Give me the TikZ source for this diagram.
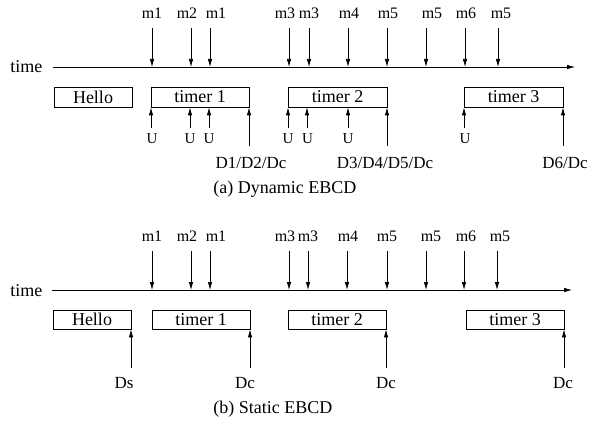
\documentclass[tikz,border=0pt]{standalone}
\usepackage{fontspec}
\setmainfont{Liberation Serif}
\usetikzlibrary{arrows.meta}
\begin{document}
\begin{tikzpicture}[x=1pt,y=1pt,line width=0.75pt,
  arr/.style={-{Latex[length=8pt,width=4.5pt]}},
  box/.style={draw,inner sep=0pt,minimum height=20pt,font=\fontsize{18}{18}\selectfont},
  mlab/.style={anchor=base,inner sep=0pt,font=\fontsize{16}{16}\selectfont},
  ulab/.style={anchor=base,inner sep=0pt,font=\fontsize{15}{15}\selectfont},
  dlab/.style={anchor=base,inner sep=0pt,font=\fontsize{17}{17}\selectfont},
  tlab/.style={anchor=base west,inner sep=0pt,font=\fontsize{18}{18}\selectfont},
  captext/.style={anchor=base west,inner sep=0pt,font=\fontsize{18}{18}\selectfont}]
\useasboundingbox (0,0) rectangle (589,424);

% ---------- (a) Dynamic EBCD ----------
\node[tlab] (timeA) at (10,351) {time};
\coordinate (axA0) at (53,357);
\coordinate (axA1) at (575,357);
\draw[arr] (axA0) -- (axA1);

\foreach \i/\x/\lx/\t in {1/152/152/m1,2/191/187/m2,3/210/216/m1,4/289/285/m3,5/309/309/m3,6/348/349/m4,7/387/388/m5,8/426/432/m5,9/465/466/m6,10/498/501/m5}{
  \node[mlab] (mA\i) at (\lx,405.5) {\t};
  \coordinate (sA\i) at (\x,396);
  \draw[arr] (sA\i) -- (sA\i |- axA0);
}

\node[box,minimum width=78pt] (hA) at (93,327) {Hello};
\node[box,minimum width=98pt] (tA1) at (200,327) {timer 1};
\node[box,minimum width=99pt] (tA2) at (337.5,327) {timer 2};
\node[box,minimum width=99pt] (tA3) at (513.5,327) {timer 3};

\foreach \i/\x/\lx/\b in {1/151/152/tA1,2/190/190/tA1,3/209/209/tA1,4/288/288/tA2,5/307/307.5/tA2,6/348/348/tA2,7/464/465/tA3}{
  \node[ulab] (uA\i) at (\lx,280) {U};
  \coordinate (usA\i) at (\x,296);
  \draw[arr] (usA\i) -- (usA\i |- \b.south);
}

\node[dlab] (dA1) at (251,256) {D1/D2/Dc};
\node[dlab] (dA2) at (385,256) {D3/D4/D5/Dc};
\node[dlab] (dA3) at (565,256) {D6/Dc};
\coordinate (dsA1) at (249,278);
\coordinate (dsA2) at (387,278);
\coordinate (dsA3) at (563,278);
\draw[arr] (dsA1) -- (dsA1 |- tA1.south);
\draw[arr] (dsA2) -- (dsA2 |- tA2.south);
\draw[arr] (dsA3) -- (dsA3 |- tA3.south);

\node[captext] (capA) at (213,231) {(a) Dynamic EBCD};

% ---------- (b) Static EBCD ----------
\node[tlab] (timeB) at (10,128) {time};
\coordinate (axB0) at (52,134);
\coordinate (axB1) at (572,134);
\draw[arr] (axB0) -- (axB1);

\foreach \i/\x/\lx/\t in {1/152/152/m1,2/191/187/m2,3/210/216/m1,4/289/285/m3,5/308/308/m3,6/347/348/m4,7/387/387/m5,8/426/431/m5,9/464/466/m6,10/497/500/m5}{
  \node[mlab] (mB\i) at (\lx,182.5) {\t};
  \coordinate (sB\i) at (\x,173);
  \draw[arr] (sB\i) -- (sB\i |- axB0);
}

\node[box,minimum width=78pt,minimum height=19pt] (hB) at (92,104.5) {Hello};
\node[box,minimum width=98pt,minimum height=19pt] (tB1) at (201,104.5) {timer 1};
\node[box,minimum width=98pt,minimum height=19pt] (tB2) at (337,104.5) {timer 2};
\node[box,minimum width=98pt,minimum height=19pt] (tB3) at (515,104.5) {timer 3};

\node[dlab] (dB0) at (124,36) {Ds};
\node[dlab] (dB1) at (245,36) {Dc};
\node[dlab] (dB2) at (386,36) {Dc};
\node[dlab] (dB3) at (563,36) {Dc};
\coordinate (dsB0) at (131,56);
\coordinate (dsB1) at (250,56);
\coordinate (dsB2) at (386,56);
\coordinate (dsB3) at (564,56);
\draw[arr] (dsB0) -- (dsB0 |- hB.south);
\draw[arr] (dsB1) -- (dsB1 |- tB1.south);
\draw[arr] (dsB2) -- (dsB2 |- tB2.south);
\draw[arr] (dsB3) -- (dsB3 |- tB3.south);

\node[captext] (capB) at (213,11) {(b) Static EBCD};
\end{tikzpicture}
\end{document}
